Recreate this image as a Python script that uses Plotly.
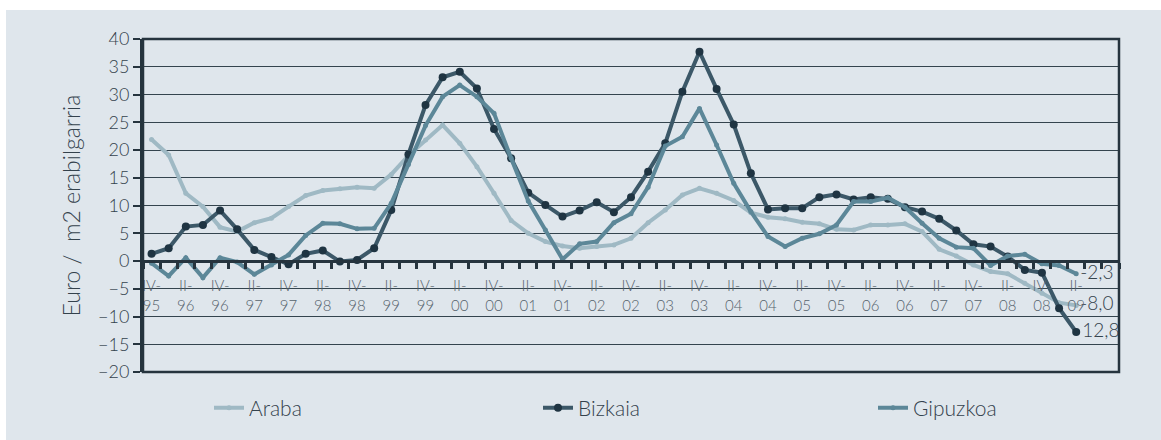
import plotly.graph_objects as go

# ---- data ----
quarter_labels = ["IV-<br>95", "II-<br>96", "IV-<br>96", "II-<br>97", "IV-<br>97", "II-<br>98", "IV-<br>98",
                  "II-<br>99", "IV-<br>99", "II-<br>00", "IV-<br>00", "II-<br>01", "IV-<br>01", "II-<br>02",
                  "IV-<br>02", "II-<br>03", "IV-<br>03", "II-<br>04", "IV-<br>04", "II-<br>05", "IV-<br>05",
                  "II-<br>06", "IV-<br>06", "II-<br>07", "IV-<br>07", "II-<br>08", "IV-<br>08", "II-<br>09"]

araba = [21.9, 19.1, 12.2, 9.8, 6.1, 5.3, 6.9, 7.7, 9.8, 11.8, 12.7, 13.0, 13.3, 13.1, 15.6,
         19.0, 21.8, 24.5, 21.2, 17.0, 12.2, 7.3, 5.0, 3.5, 2.7, 2.3, 2.6, 2.9, 4.1, 6.9,
         9.2, 11.9, 13.1, 12.2, 10.9, 8.7, 7.9, 7.6, 7.0, 6.7, 5.7, 5.6, 6.5, 6.5, 6.7,
         5.3, 2.1, 0.9, -0.7, -1.9, -2.3, -4.0, -5.8, -7.5, -8.0]

bizkaia = [1.3, 2.3, 6.2, 6.5, 9.1, 5.7, 2.0, 0.7, -0.6, 1.3, 1.9, -0.1, 0.2, 2.3, 9.2,
           19.2, 28.1, 33.1, 34.1, 31.1, 23.8, 18.5, 12.3, 10.1, 8.0, 9.1, 10.6, 8.8, 11.5, 16.1,
           21.2, 30.5, 37.7, 31.0, 24.6, 15.8, 9.3, 9.5, 9.5, 11.5, 12.0, 11.1, 11.5, 11.2, 9.7,
           8.9, 7.6, 5.5, 3.0, 2.6, 0.8, -1.6, -2.1, -8.5, -12.8]

gipuzkoa = [-0.4, -2.7, 0.6, -3.0, 0.6, -0.2, -2.4, -0.7, 1.1, 4.6, 6.8, 6.7, 5.8, 5.9, 10.4,
            17.4, 24.4, 29.6, 31.7, 29.6, 26.6, 18.5, 10.8, 5.6, 0.3, 3.1, 3.5, 6.9, 8.5, 13.3,
            20.7, 22.4, 27.5, 20.9, 14.0, 8.9, 4.4, 2.6, 4.1, 4.9, 6.5, 10.7, 10.7, 11.4, 9.7,
            6.8, 4.1, 2.5, 2.3, -0.8, 0.9, 1.2, -0.5, -0.8, -2.3]

end_labels = {"Araba": "-8,0", "Bizkaia": "12,8", "Gipuzkoa": "-2,3"}

y_ticks = [40, 35, 30, 25, 20, 15, 10, 5, 0, -5, -10, -15, -20]

# ---- styling ----
FONT = "Lato, Open Sans, sans-serif"
W = 300
PANEL = "#dfe6ec"
TXT = "#34424c"

# plot area in pixels
L, R, T, B = 143, 1119, 39, 372
PW, PH = R - L, B - T

x_idx = list(range(len(araba)))
n_slots = 57  # category slots on the axis (two empty at the end)

series = [
    ("Araba", araba, "#9fb9c4", "#9fb9c4", 5, "legend", 249),
    ("Bizkaia", bizkaia, "#3c5868", "#1f3442", 8, "legend2", 578),
    ("Gipuzkoa", gipuzkoa, "#5c8798", "#5c8798", 5, "legend3", 913),
]

fig = go.Figure()
legends = {}
for name, vals, col, mcol, msize, leg, text_x in series:
    txt = [""] * (len(vals) - 1) + [end_labels[name]]
    fig.add_trace(go.Scatter(
        x=x_idx, y=vals, name=name, mode="lines+markers+text",
        line=dict(color=col, width=4),
        marker=dict(color=mcol, size=msize),
        text=txt, textposition="middle right",
        textfont=dict(family=FONT, size=19, color=TXT, weight=W),
        cliponaxis=False, legend=leg,
    ))
    legends[leg] = dict(orientation="h", x=(text_x - 40 - L) / PW, xanchor="left",
                        y=(B - 408) / PH, yanchor="middle",
                        bgcolor="rgba(0,0,0,0)",
                        font=dict(family=FONT, size=21, color=TXT, weight=W))

# panel background
fig.add_shape(type="rect", xref="paper", yref="paper",
              x0=(6 - L) / PW, x1=(1161 - L) / PW,
              y0=(B - 440) / PH, y1=(B - 10) / PH,
              fillcolor=PANEL, line=dict(width=0), layer="below")
# plot frame
fig.add_shape(type="rect", xref="paper", yref="paper", x0=0, x1=1, y0=0, y1=1,
              line=dict(color="#26343e", width=2.5), layer="above")

fig.update_layout(
    width=1161, height=440,
    margin=dict(l=L, r=1161 - R, t=T, b=440 - B),
    paper_bgcolor="white", plot_bgcolor=PANEL,
    font=dict(family=FONT, color=TXT, weight=W),
    showlegend=True,
    xaxis=dict(
        range=[-0.5, n_slots - 0.5],
        anchor="free", position=1 / 3, automargin=False,
        showline=True, linecolor="#26343e", linewidth=3,
        showgrid=False, zeroline=False,
        tickmode="array", tickvals=x_idx[::2], ticktext=quarter_labels,
        ticks="", ticklabelstandoff=10,
        tickfont=dict(family=FONT, size=15, color="#56636c", weight=W),
        minor=dict(tickmode="linear", tick0=-0.5, dtick=1, ticks="outside",
                   ticklen=6, tickwidth=3, tickcolor="#26343e", showgrid=False),
    ),
    yaxis=dict(
        range=[-20, 40], tickmode="array", tickvals=y_ticks, automargin=False,
        showline=True, linecolor="#26343e", linewidth=3,
        ticks="outside", ticklen=7, tickwidth=2, tickcolor="#26343e",
        showgrid=True, gridcolor="#34444e", gridwidth=1,
        zeroline=False,
        tickfont=dict(family=FONT, size=18, color=TXT, weight=W),
        title=dict(text="Euro /  m2 erabilgarria", standoff=12,
                   font=dict(family=FONT, size=23, color=TXT, weight=W)),
    ),
    **legends,
)

fig.write_html("out.html", config={"displayModeBar": False},
               post_script="document.body.style.margin='0px';")
